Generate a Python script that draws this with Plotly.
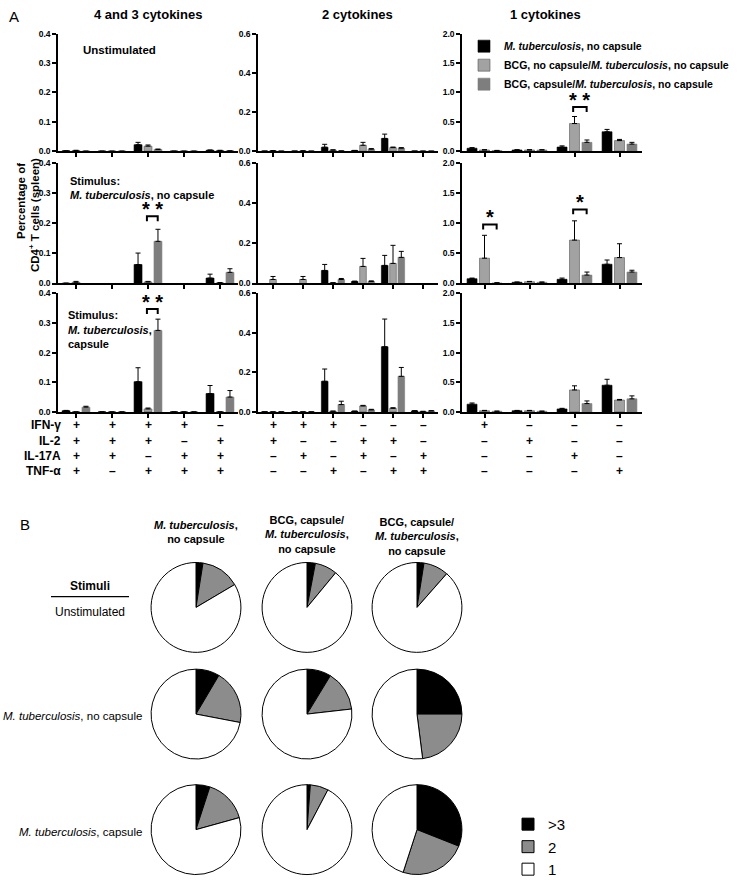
import plotly.graph_objects as go

W, H = 741, 886
FONT = "Liberation Sans, Arial, sans-serif"


def fx(p):
    return p / W


def fy(p):
    return 1 - p / H


# ---------------- DATA: panel A ----------------
series_names = [
    "<b><i>M. tuberculosis</i>, no capsule</b>",
    "<b>BCG, no capsule/<i>M. tuberculosis</i>, no capsule</b>",
    "<b>BCG, capsule/<i>M. tuberculosis</i>, no capsule</b>",
]
series_colors = ["#000000", "#a2a2a2", "#7e7e7e"]

col_titles = ["4 and 3 cytokines", "2 cytokines", "1 cytokines"]
row_ymax = [0.4, 0.6, 2.0]
col_ticks = [[0.0, 0.1, 0.2, 0.3, 0.4], [0.0, 0.2, 0.4, 0.6], [0.0, 0.5, 1.0, 1.5, 2.0]]

cyto_names = ["IFN-γ", "IL-2", "IL-17A", "TNF-α"]
combo_43 = [["+", "+", "+", "+", "–"],
            ["+", "+", "+", "–", "+"],
            ["+", "+", "–", "+", "+"],
            ["+", "–", "+", "+", "+"]]
combo_2 = [["+", "+", "+", "–", "–", "–"],
           ["+", "–", "–", "+", "+", "–"],
           ["–", "+", "–", "+", "–", "+"],
           ["–", "–", "+", "–", "+", "+"]]
combo_1 = [["+", "–", "–", "–"],
           ["–", "+", "–", "–"],
           ["–", "–", "+", "–"],
           ["–", "–", "–", "+"]]

# Unstimulated
u43_mtb = [0.001, 0, 0.022, 0, 0.003]
u43_mtb_err = [0, 0, 0.008, 0, 0.001]
u43_bnc = [0.002, 0, 0.017, 0, 0.002]
u43_bnc_err = [0.001, 0, 0.004, 0, 0.001]
u43_bc = [0, 0, 0.006, 0, 0.001]
u43_bc_err = [0, 0, 0.001, 0, 0]
u2_mtb = [0, 0, 0.02, 0.003, 0.065, 0]
u2_mtb_err = [0, 0, 0.015, 0.001, 0.022, 0]
u2_bnc = [0.002, 0.001, 0.005, 0.03, 0.018, 0]
u2_bnc_err = [0.001, 0.001, 0.002, 0.015, 0.003, 0]
u2_bc = [0, 0, 0.001, 0.01, 0.015, 0]
u2_bc_err = [0, 0, 0, 0.003, 0.003, 0]
u1_mtb = [0.05, 0.02, 0.07, 0.33]
u1_mtb_err = [0.01, 0.005, 0.02, 0.04]
u1_bnc = [0.02, 0.02, 0.47, 0.18]
u1_bnc_err = [0.005, 0.005, 0.12, 0.02]
u1_bc = [0.01, 0.02, 0.15, 0.12]
u1_bc_err = [0.003, 0.005, 0.04, 0.03]

# Stimulus: M. tuberculosis, no capsule
n43_mtb = [0.001, 0, 0.063, 0, 0.018]
n43_mtb_err = [0, 0, 0.038, 0, 0.013]
n43_bnc = [0.004, 0, 0.005, 0, 0.002]
n43_bnc_err = [0.003, 0, 0.002, 0, 0.001]
n43_bc = [0, 0, 0.14, 0, 0.037]
n43_bc_err = [0, 0, 0.04, 0, 0.012]
n2_mtb = [0, 0, 0.065, 0.01, 0.09, 0]
n2_mtb_err = [0, 0, 0.03, 0.002, 0.05, 0]
n2_bnc = [0.02, 0.02, 0.003, 0.085, 0.1, 0]
n2_bnc_err = [0.015, 0.015, 0.001, 0.04, 0.09, 0]
n2_bc = [0, 0, 0.02, 0.01, 0.13, 0]
n2_bc_err = [0, 0, 0.005, 0.003, 0.03, 0]
n1_mtb = [0.08, 0.02, 0.07, 0.32]
n1_mtb_err = [0.01, 0.005, 0.02, 0.07]
n1_bnc = [0.42, 0.03, 0.72, 0.43]
n1_bnc_err = [0.38, 0.005, 0.32, 0.23]
n1_bc = [0.01, 0.02, 0.14, 0.19]
n1_bc_err = [0.003, 0.005, 0.05, 0.03]

# Stimulus: M. tuberculosis, capsule
c43_mtb = [0.004, 0, 0.102, 0, 0.062]
c43_mtb_err = [0.001, 0, 0.047, 0, 0.027]
c43_bnc = [0, 0, 0.01, 0, 0]
c43_bnc_err = [0, 0, 0.003, 0, 0]
c43_bc = [0.016, 0, 0.275, 0, 0.05]
c43_bc_err = [0.003, 0, 0.038, 0, 0.022]
c2_mtb = [0, 0, 0.155, 0.003, 0.33, 0.005]
c2_mtb_err = [0, 0, 0.062, 0.001, 0.14, 0.001]
c2_bnc = [0, 0, 0.003, 0.03, 0.018, 0.002]
c2_bnc_err = [0, 0, 0.001, 0.003, 0.003, 0.001]
c2_bc = [0, 0, 0.037, 0.01, 0.18, 0.005]
c2_bc_err = [0, 0, 0.017, 0.003, 0.045, 0.001]
c1_mtb = [0.13, 0.02, 0.05, 0.45]
c1_mtb_err = [0.02, 0.005, 0.01, 0.1]
c1_bnc = [0.02, 0.02, 0.37, 0.2]
c1_bnc_err = [0.005, 0.005, 0.07, 0.01]
c1_bc = [0.01, 0.01, 0.14, 0.22]
c1_bc_err = [0.003, 0.003, 0.045, 0.05]

# significance marks: (row, col, category, bracket level, label)
signif = [
    (0, 2, 2, 0.75, "* *"),
    (1, 0, 2, 0.223, "* *"),
    (2, 0, 2, 0.347, "* *"),
    (1, 2, 0, 0.98, "*"),
    (1, 2, 2, 1.23, "*"),
]

# ---------------- DATA: panel B ----------------
pie_labels = [">3", "2", "1"]
pie_colors = ["#000000", "#8c8c8c", "#ffffff"]
pie_cols = ["<b><i>M. tuberculosis</i>,<br>no capsule</b>",
            "<b>BCG, capsule/<br><i>M. tuberculosis</i>,<br>no capsule</b>",
            "<b>BCG, capsule/<br><i>M. tuberculosis</i>,<br>no capsule</b>"]
pie_rows = ["Unstimulated", "<i>M. tuberculosis</i>, no capsule", "<i>M. tuberculosis</i>, capsule"]
pie_unstim = [[2.5, 14.0, 83.5], [3.0, 8.0, 89.0], [2.5, 9.0, 88.5]]
pie_mtb_nocap = [[8.5, 19.5, 72.0], [8.7, 14.5, 76.8], [25.0, 23.0, 52.0]]
pie_mtb_cap = [[5.0, 15.7, 79.3], [1.2, 6.5, 92.3], [31.0, 24.0, 45.0]]

# ---------------- LAYOUT GEOMETRY (pixels) ----------------
col_x = [(58, 238), (258, 438), (462, 642)]
row_y = [(29, 148), (160, 282), (292, 412)]
combos = [combo_43, combo_2, combo_1]

data_grid = [
    [[(u43_mtb, u43_mtb_err), (u43_bnc, u43_bnc_err), (u43_bc, u43_bc_err)],
     [(u2_mtb, u2_mtb_err), (u2_bnc, u2_bnc_err), (u2_bc, u2_bc_err)],
     [(u1_mtb, u1_mtb_err), (u1_bnc, u1_bnc_err), (u1_bc, u1_bc_err)]],
    [[(n43_mtb, n43_mtb_err), (n43_bnc, n43_bnc_err), (n43_bc, n43_bc_err)],
     [(n2_mtb, n2_mtb_err), (n2_bnc, n2_bnc_err), (n2_bc, n2_bc_err)],
     [(n1_mtb, n1_mtb_err), (n1_bnc, n1_bnc_err), (n1_bc, n1_bc_err)]],
    [[(c43_mtb, c43_mtb_err), (c43_bnc, c43_bnc_err), (c43_bc, c43_bc_err)],
     [(c2_mtb, c2_mtb_err), (c2_bnc, c2_bnc_err), (c2_bc, c2_bc_err)],
     [(c1_mtb, c1_mtb_err), (c1_bnc, c1_bnc_err), (c1_bc, c1_bc_err)]],
]

fig = go.Figure()
layout = {}
annotations = []
shapes = []

for r in range(3):
    for c in range(3):
        idx = r * 3 + c + 1
        xn = "x" if idx == 1 else f"x{idx}"
        yn = "y" if idx == 1 else f"y{idx}"
        ncat = len(combos[c][0])
        cats = list(range(ncat))
        for s in range(3):
            vals, errs = data_grid[r][c][s]
            fig.add_trace(go.Bar(
                x=cats, y=vals, xaxis=xn, yaxis=yn,
                name=series_names[s], legendgroup=f"s{s}",
                showlegend=(idx == 1),
                marker=dict(color=series_colors[s],
                            line=dict(color="#555555" if s == 1 else series_colors[s], width=0.6)),
                error_y=dict(type="data", array=errs, arrayminus=[0] * len(errs),
                             symmetric=False, color="black", thickness=1, width=2.5),
            ))
        x0, x1 = col_x[c]
        y0, y1 = row_y[r]
        ymax = row_ymax[c]
        ticks = col_ticks[c]
        layout["xaxis" if idx == 1 else f"xaxis{idx}"] = dict(
            domain=[fx(x0), fx(x1)], range=[-0.5, ncat - 0.5], anchor=yn,
            showline=True, linecolor="black", linewidth=1.5, ticks="outside",
            tickvals=cats, ticklen=4, tickwidth=1.5, tickcolor="black",
            showticklabels=False, showgrid=False, zeroline=False, fixedrange=True)
        layout["yaxis" if idx == 1 else f"yaxis{idx}"] = dict(
            domain=[fy(y1), fy(y0)], range=[0, ymax], anchor=xn,
            showline=True, linecolor="black", linewidth=1.5, ticks="outside",
            tickvals=ticks, ticktext=[f"<b>{t:.1f}</b>" for t in ticks],
            ticklen=4, tickwidth=1.5, tickcolor="black",
            tickfont=dict(family=FONT, size=8.5, color="black"),
            showgrid=False, zeroline=False, fixedrange=True)

# significance brackets
for (r, c, cat, lvl, lab) in signif:
    idx = r * 3 + c + 1
    xn = "x" if idx == 1 else f"x{idx}"
    yn = "y" if idx == 1 else f"y{idx}"
    ph = row_y[r][1] - row_y[r][0]
    leg = 5 * row_ymax[c] / ph
    xa, xb = cat - 0.03, cat + 0.27
    shapes.append(dict(type="path", xref=xn, yref=yn,
                       path=f"M{xa},{lvl - leg} L{xa},{lvl} L{xb},{lvl} L{xb},{lvl - leg}",
                       line=dict(color="black", width=2)))
    annotations.append(dict(x=(xa + xb) / 2, y=lvl, xref=xn, yref=yn, text=f"<b>{lab}</b>",
                            showarrow=False, yanchor="bottom", yshift=-6,
                            font=dict(family=FONT, size=20, color="black")))

# column titles
title_x = [148, 357, 545]
for c in range(3):
    annotations.append(dict(x=fx(title_x[c]), y=fy(10), xref="paper", yref="paper",
                            text=f"<b>{col_titles[c]}</b>", showarrow=False,
                            xanchor="center", yanchor="middle",
                            font=dict(family=FONT, size=13, color="black")))

# panel labels
annotations.append(dict(x=fx(7), y=fy(12), xref="paper", yref="paper", text="A",
                        showarrow=False, xanchor="left", yanchor="middle",
                        font=dict(family=FONT, size=15, color="black")))
annotations.append(dict(x=fx(18), y=fy(526), xref="paper", yref="paper", text="B",
                        showarrow=False, xanchor="left", yanchor="middle",
                        font=dict(family=FONT, size=15, color="black")))

# in-panel stimulus texts
in_texts = [
    (81, 46, "<b>Unstimulated</b>"),
    (68, 178, "<b>Stimulus:</b>"),
    (68, 192, "<b><i>M. tuberculosis</i>, no capsule</b>"),
    (66, 314, "<b>Stimulus:</b>"),
    (66, 329, "<b><i>M. tuberculosis</i>,</b>"),
    (66, 343, "<b>capsule</b>"),
]
for (px, py, t) in in_texts:
    annotations.append(dict(x=fx(px), y=fy(py), xref="paper", yref="paper", text=t,
                            showarrow=False, xanchor="left", yanchor="middle",
                            font=dict(family=FONT, size=11.5 if "Unstim" in t else 11, color="black")))

# y-axis title
annotations.append(dict(x=fx(21), y=fy(158), xref="paper", yref="paper",
                        text="<b>Percentage of</b>", textangle=-90, showarrow=False,
                        xanchor="center", yanchor="top",
                        font=dict(family=FONT, size=11.5, color="black")))
annotations.append(dict(x=fx(34), y=fy(153), xref="paper", yref="paper",
                        text="<b>CD4<sup>+</sup> T cells (spleen)</b>", textangle=-90, showarrow=False,
                        xanchor="center", yanchor="top",
                        font=dict(family=FONT, size=11.5, color="black")))

# cytokine table
table_y = [425, 441, 457, 472]
for k in range(4):
    annotations.append(dict(x=fx(63), y=fy(table_y[k]), xref="paper", yref="paper",
                            text=f"<b>{cyto_names[k]}</b>", showarrow=False,
                            xanchor="right", yanchor="middle",
                            font=dict(family=FONT, size=12, color="black")))
    for c in range(3):
        xn = "x" if c == 0 else f"x{c + 1}"
        for i, sym in enumerate(combos[c][k]):
            annotations.append(dict(x=i, y=fy(table_y[k]), xref=xn, yref="paper",
                                    text=f"<b>{sym}</b>", showarrow=False,
                                    xanchor="center", yanchor="middle",
                                    font=dict(family=FONT, size=12, color="black")))

# ---------------- PANEL B: pies ----------------
pie_cx = [196, 307, 417]
pie_cy = [610, 718, 835]
pie_r = 45.5
pie_sets = [pie_unstim, pie_mtb_nocap, pie_mtb_cap]
first = True
for ri in range(3):
    for ci in range(3):
        cx, cy = pie_cx[ci], pie_cy[ri]
        fig.add_trace(go.Pie(
            labels=pie_labels, values=pie_sets[ri][ci], sort=False,
            direction="clockwise", rotation=0, textinfo="none",
            marker=dict(colors=pie_colors, line=dict(color="black", width=1)),
            domain=dict(x=[fx(cx - pie_r), fx(cx + pie_r)], y=[fy(cy + pie_r), fy(cy - pie_r)]),
            showlegend=first, legend="legend2", hoverinfo="label+percent",
        ))
        first = False

pie_head_y = [(529, 543), (525, 539, 553), (527, 541, 555)]
for ci in range(3):
    ys = pie_head_y[ci]
    annotations.append(dict(x=fx(pie_cx[ci]), y=fy(ys[-1] + 6), xref="paper", yref="paper",
                            text=pie_cols[ci], showarrow=False, xanchor="center", yanchor="bottom",
                            font=dict(family=FONT, size=11, color="black")))

annotations.append(dict(x=fx(90), y=fy(588), xref="paper", yref="paper", text="<b>Stimuli</b>",
                        showarrow=False, xanchor="center", yanchor="middle",
                        font=dict(family=FONT, size=12, color="black")))
shapes.append(dict(type="line", xref="paper", yref="paper", x0=fx(51), x1=fx(129),
                   y0=fy(599), y1=fy(599), line=dict(color="black", width=1.2)))
annotations.append(dict(x=fx(90), y=fy(615), xref="paper", yref="paper", text=pie_rows[0],
                        showarrow=False, xanchor="center", yanchor="middle",
                        font=dict(family=FONT, size=12, color="black")))
for ri, py in [(1, 720), (2, 837)]:
    annotations.append(dict(x=fx(144), y=fy(py), xref="paper", yref="paper", text=pie_rows[ri],
                            showarrow=False, xanchor="right", yanchor="middle",
                            font=dict(family=FONT, size=11.5, color="black")))

layout.update(
    width=W, height=H, margin=dict(l=0, r=0, t=0, b=0),
    paper_bgcolor="white", plot_bgcolor="rgba(0,0,0,0)",
    barmode="group", bargap=0.17, bargroupgap=0.2,
    showlegend=True,
    legend=dict(x=fx(464), y=fy(27), xanchor="left", yanchor="top",
                font=dict(family=FONT, size=10.5, color="black"),
                bgcolor="rgba(0,0,0,0)", tracegroupgap=0, itemwidth=30),
    legend2=dict(x=fx(508), y=fy(813), xanchor="left", yanchor="top",
                 font=dict(family=FONT, size=15, color="black"),
                 bgcolor="rgba(0,0,0,0)", itemwidth=30),
    annotations=annotations, shapes=shapes,
    font=dict(family=FONT, color="black"),
)
fig.update_layout(**layout)
fig.write_html("out.html", config={"displayModeBar": False},
               post_script="document.body.style.margin='0';document.body.style.overflow='hidden';")
